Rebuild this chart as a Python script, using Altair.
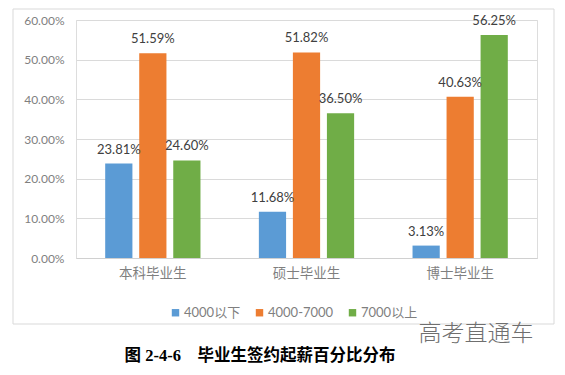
import altair as alt
import pandas as pd

categories = ["本科毕业生", "硕士毕业生", "博士毕业生"]
series = ["4000以下", "4000-7000", "7000以上"]
colors = ["#5B9BD5", "#ED7D31", "#70AD47"]
values = {
    "4000以下": [0.2381, 0.1168, 0.0313],
    "4000-7000": [0.5159, 0.5182, 0.4063],
    "7000以上": [0.2460, 0.3650, 0.5625],
}
y_ticks = [0, 0.1, 0.2, 0.3, 0.4, 0.5, 0.6]
caption = "图\u00a02-4-6\u00a0\u00a0\u00a0\u00a0毕业生签约起薪百分比分布"
watermark = "高考直通车"

rows = []
for s in series:
    for c, v in zip(categories, values[s]):
        rows.append({"cat": c, "series": s, "value": v})
df = pd.DataFrame(rows)

FONT = "Lato, Noto Sans CJK SC, sans-serif"
W, H = 461, 238

x = alt.X("cat:N", sort=categories, title=None,
          scale=alt.Scale(paddingInner=0.38, paddingOuter=0.19),
          axis=alt.Axis(labelAngle=0, labelFont="Noto Sans CJK SC", labelFontSize=13.5,
                        labelColor="#7f7f7f", ticks=False, domain=True,
                        domainColor="#d0d0d0", labelPadding=8, grid=False))
xoff = alt.XOffset("series:N", sort=series,
                   scale=alt.Scale(paddingInner=0.2, paddingOuter=0))
y = alt.Y("value:Q", title=None,
          scale=alt.Scale(domain=[0, 0.6], nice=False),
          axis=alt.Axis(values=y_ticks, format=".2%", labelFont=FONT, labelFontSize=12,
                        labelColor="#7f7f7f", ticks=False, domain=False,
                        gridColor="#dadada", labelPadding=12))
color = alt.Color("series:N", sort=series,
                  scale=alt.Scale(domain=series, range=colors),
                  legend=alt.Legend(title=None, orient="none", direction="horizontal",
                                    legendX=93, legendY=286, symbolType="square",
                                    symbolSize=55, symbolStrokeWidth=0,
                                    labelFont=FONT, labelFontSize=13,
                                    labelColor="#7f7f7f", columnPadding=12,
                                    labelOffset=2))

base = alt.Chart(df)
bars = base.mark_bar().encode(x=x, xOffset=xoff, y=y, color=color)
labels = base.mark_text(baseline="bottom", dy=-7, font=FONT, fontSize=13,
                        color="#404040").encode(
    x=x, xOffset=xoff, y=y, text=alt.Text("value:Q", format=".2%"))

border = alt.Chart(pd.DataFrame({"a": [0]})).mark_rect(
    fill=None, stroke="#d9d9d9", strokeWidth=1).encode(
    x=alt.value(-63), x2=alt.value(478), y=alt.value(-11), y2=alt.value(304))

wm = alt.Chart(pd.DataFrame({"t": [watermark]})).mark_text(
    font="Noto Sans CJK SC", fontSize=23, fontWeight=300, color="#6f6f6f",
    align="center", baseline="middle").encode(
    text="t:N", x=alt.value(400), y=alt.value(314))

cap = alt.Chart(pd.DataFrame({"t": [caption]})).mark_text(
    font="Liberation Serif, Noto Sans CJK SC", fontSize=16.5, fontWeight="bold",
    color="#000000", align="center", baseline="middle").encode(
    text="t:N", x=alt.value(184), y=alt.value(336))

chart = alt.layer(border, bars, labels, wm, cap).properties(
    width=W, height=H,
    autosize=alt.AutoSizeParams(type="none"),
    padding={"left": 68, "top": 12, "right": 20, "bottom": 109},
).configure_view(stroke=None).configure(background="white")

chart.save("out.html", embed_options={"renderer": "svg", "actions": False})
